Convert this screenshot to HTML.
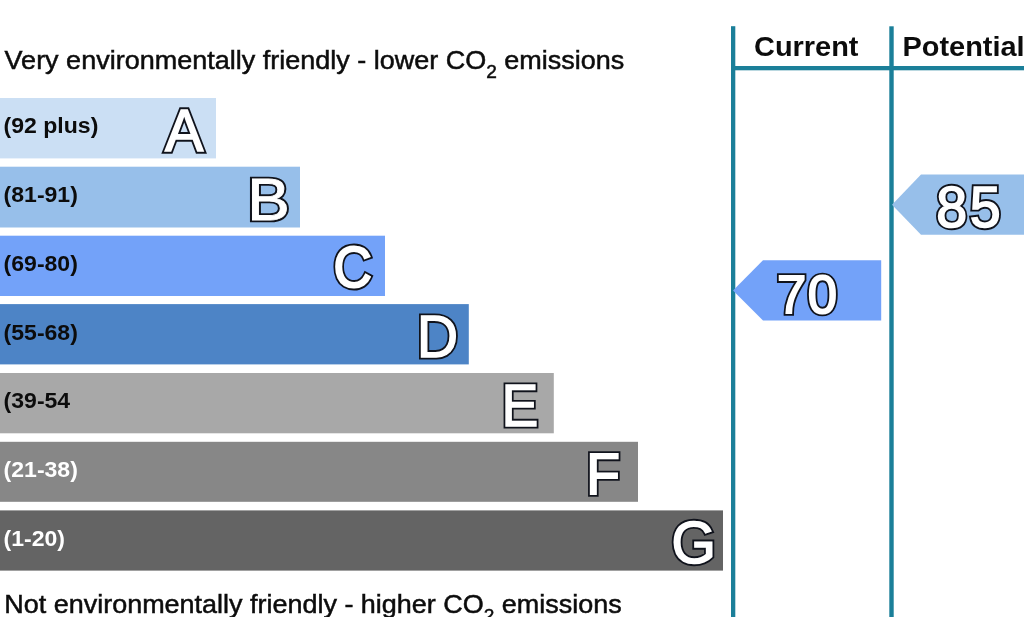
<!DOCTYPE html>
<html lang="en">
<head>
<meta charset="utf-8">
<title>Environmental Impact (CO2) Rating</title>
<style>
  html, body { margin: 0; padding: 0; background: #ffffff; }
  body { width: 1024px; height: 617px; overflow: hidden; position: relative;
         font-family: "Liberation Sans", Arial, sans-serif; }
  svg { position: absolute; left: 0; top: 0; display: block; }
  text { font-family: "Liberation Sans", Arial, sans-serif; }
  .cap  { font-size: 26.2px; fill: #0c0c0c; stroke: #0c0c0c; stroke-width: 0.5px; }
  .sub  { font-size: 18.5px; }
  .rng  { font-size: 22.8px; font-weight: bold; }
  .hdr  { font-size: 28.5px; font-weight: bold; fill: #0c0c0c; }
  .go   { fill: #10131c; stroke: #10131c; stroke-linejoin: miter; stroke-miterlimit: 3; }
  .gi   { fill: #ffffff; stroke: #ffffff; stroke-linejoin: miter; stroke-miterlimit: 3; }
</style>
</head>
<body>
<svg width="1024" height="617" viewBox="0 0 1024 617">
  <rect x="0" y="0" width="1024" height="617" fill="#ffffff"/>

  <!-- rating bars -->
  <rect x="0" y="98"    width="216"   height="60.4" fill="#cbdff4"/>
  <rect x="0" y="166.7" width="300"   height="60.8" fill="#97bfea"/>
  <rect x="0" y="235.7" width="385"   height="60.3" fill="#73a2f9"/>
  <rect x="0" y="304.1" width="468.8" height="60.3" fill="#4d84c6"/>
  <rect x="0" y="373"   width="553.8" height="60.3" fill="#a8a8a8"/>
  <rect x="0" y="441.8" width="638"   height="60"   fill="#878787"/>
  <rect x="0" y="510.4" width="723"   height="60.2" fill="#646464"/>

  <!-- captions -->
  <text class="cap" transform="translate(4.6 69) scale(1.031 1)">Very environmentally friendly - lower CO<tspan class="sub" dy="8.8">2</tspan><tspan dy="-8.8"> emissions</tspan></text>
  <text class="cap" transform="translate(4.3 612.8) scale(1.029 1)">Not environmentally friendly - higher CO<tspan class="sub" dy="8.8">2</tspan><tspan dy="-8.8"> emissions</tspan></text>

  <!-- range labels -->
  <text class="rng" transform="translate(3.6 133.1) scale(1.011 1)" fill="#0c0c0c">(92 plus)</text>
  <text class="rng" transform="translate(3.6 201.9) scale(1.011 1)" fill="#0c0c0c">(81-91)</text>
  <text class="rng" transform="translate(3.6 270.7) scale(1.011 1)" fill="#0c0c0c">(69-80)</text>
  <text class="rng" transform="translate(3.6 339.5) scale(1.011 1)" fill="#0c0c0c">(55-68)</text>
  <text class="rng" transform="translate(3.6 408.3) scale(1.011 1)" fill="#0c0c0c">(39-54</text>
  <text class="rng" transform="translate(3.6 477.1) scale(1.011 1)" fill="#ffffff">(21-38)</text>
  <text class="rng" transform="translate(3.6 546.0) scale(1.011 1)" fill="#ffffff">(1-20)</text>

  <!-- band letters -->
  <g transform="translate(164.99 150.50) scale(0.9722 1.0000)" font-size="59.09"><text class="go" aria-hidden="true" stroke-width="5.30">A</text><text class="gi" stroke-width="1.50">A</text></g>
  <g transform="translate(247.14 219.50) scale(1.0717 1.0000)" font-size="59.48"><text class="go" aria-hidden="true" stroke-width="4.70">B</text><text class="gi" stroke-width="0.90">B</text></g>
  <g transform="translate(333.38 287.21) scale(0.9206 1.0000)" font-size="57.63"><text class="go" aria-hidden="true" stroke-width="6.00">C</text><text class="gi" stroke-width="2.20">C</text></g>
  <g transform="translate(416.82 357.25) scale(0.9654 1.0000)" font-size="59.44"><text class="go" aria-hidden="true" stroke-width="5.10">D</text><text class="gi" stroke-width="1.30">D</text></g>
  <g transform="translate(501.58 425.50) scale(0.9483 1.0000)" font-size="58.32"><text class="go" aria-hidden="true" stroke-width="5.20">E</text><text class="gi" stroke-width="1.40">E</text></g>
  <g transform="translate(586.18 493.75) scale(0.9553 1.0000)" font-size="57.70"><text class="go" aria-hidden="true" stroke-width="5.70">F</text><text class="gi" stroke-width="1.90">F</text></g>
  <g transform="translate(671.50 562.75) scale(0.9721 1.0000)" font-size="58.73"><text class="go" aria-hidden="true" stroke-width="5.50">G</text><text class="gi" stroke-width="1.70">G</text></g>

  <!-- table lines -->
  <rect x="731" y="26.2" width="4.3" height="591" fill="#1b7f99"/>
  <rect x="889.3" y="26.3" width="4.4" height="591" fill="#1b7f99"/>
  <rect x="731" y="66" width="293" height="4.3" fill="#1b7f99"/>

  <!-- rating arrows -->
  <polygon points="733,290.4 763,260.2 881.2,260.2 881.2,320.6 763,320.6" fill="#73a2f9"/>
  <polygon points="892,204.7 921,174.6 1024,174.6 1024,234.8 921,234.8" fill="#97bfea"/>
  <g transform="translate(776.92 312.76) scale(0.9681 1.0000)" font-size="54.48" letter-spacing="1.60"><text class="go" aria-hidden="true" stroke-width="5.70">70</text><text class="gi" stroke-width="1.90">70</text></g>
  <g transform="translate(936.26 227.43) scale(0.9675 1.0000)" font-size="57.40" letter-spacing="2.60"><text class="go" aria-hidden="true" stroke-width="5.50">85</text><text class="gi" stroke-width="1.70">85</text></g>

  <!-- headers -->
  <text class="hdr" transform="translate(754 56) scale(1.015 1)">Current</text>
  <text class="hdr" transform="translate(902.5 56) scale(1.015 1)">Potential</text>
</svg>
</body>
</html>
